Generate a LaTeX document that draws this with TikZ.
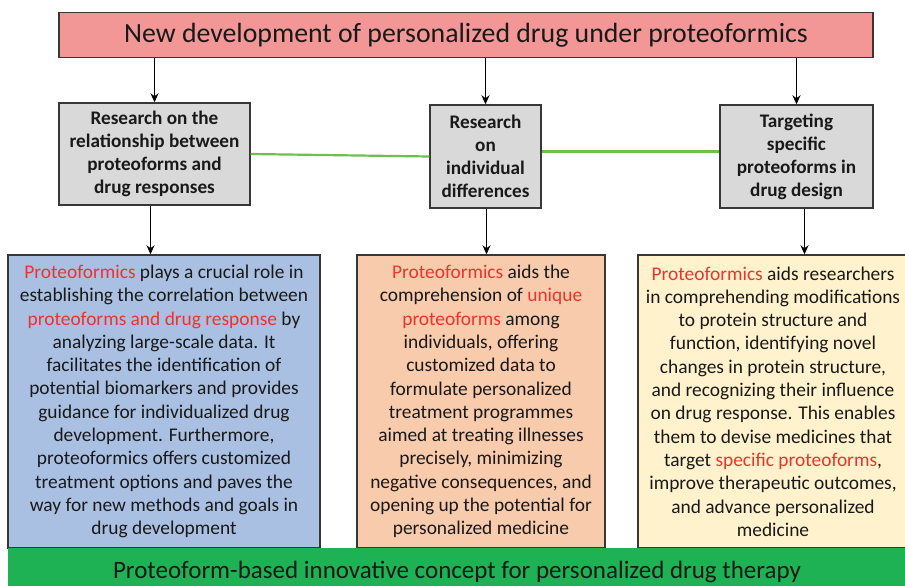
\documentclass[tikz,border=0pt]{standalone}
\usepackage{fontspec}
\setmainfont{Carlito}
\usetikzlibrary{arrows.meta,shadows}

\definecolor{bannerred}{RGB}{243,150,150}
\definecolor{headgray}{RGB}{217,217,217}
\definecolor{boxblue}{RGB}{170,192,226}
\definecolor{boxorange}{RGB}{248,203,173}
\definecolor{boxyellow}{RGB}{255,242,204}
\definecolor{bargreen}{RGB}{30,178,84}
\definecolor{linkgreen}{RGB}{112,190,80}
\definecolor{hl}{RGB}{235,52,45}
\definecolor{edge}{RGB}{55,55,55}
\definecolor{ink}{RGB}{25,25,25}

\newcommand{\hi}[1]{\textcolor{hl}{#1}}

\tikzset{
  panel/.style={draw=edge, line width=1.4pt, rectangle, inner sep=0pt,
    align=center, text=ink},
  headbox/.style={panel, fill=headgray,
    drop shadow={shadow xshift=1.2pt, shadow yshift=-1.2pt, opacity=0.45},
    font=\bfseries\fontsize{19.2}{23}\selectfont},
  bodybox/.style={panel, font=\fontsize{19.4}{23.3}\selectfont},
  flow/.style={-{Stealth[length=9pt,width=8pt]}, line width=1.8pt, black},
  link/.style={line width=2.2pt, linkgreen},
}

\begin{document}
\begin{tikzpicture}[x=1pt,y=-1pt]
\useasboundingbox (0,0) rectangle (905,586);
\clip (0,0) rectangle (905,586);
\fill[white] (0,0) rectangle (905,586);

% top banner
\node[panel, fill=bannerred, minimum width=814pt, minimum height=45pt,
      font=\fontsize{27.8}{32}\selectfont] (top) at (466,35)
  {New development of personalized drug under proteoformics};

% three research themes
\node[headbox, minimum width=191pt, minimum height=102pt] (g1) at (154.5,154)
  {Research on the\\relationship between\\proteoforms and\\drug responses};
\node[headbox, minimum width=111pt, minimum height=103pt] (g2) at (485.5,156.5)
  {Research\\on\\individual\\differences};
\node[headbox, minimum width=153pt, minimum height=103pt] (g3) at (796.5,156.5)
  {Targeting\\specific\\proteoforms in\\drug design};

% explanatory panels
\node[bodybox, fill=boxblue, minimum width=312pt, minimum height=293pt] (b1) at (164,401.5)
  {\hi{Proteoformics} plays a crucial role in\\
   establishing the correlation between\\
   \hi{proteoforms and drug response} by\\
   analyzing large-scale data. It\\
   facilitates the identification of\\
   potential biomarkers and provides\\
   guidance for individualized drug\\
   development. Furthermore,\\
   proteoformics offers customized\\
   treatment options and paves the\\
   way for new methods and goals in\\
   drug development};
\node[bodybox, fill=boxorange, minimum width=248pt, minimum height=293pt] (b2) at (481,401.5)
  {\hi{Proteoformics} aids the\\
   comprehension of \hi{unique}\\
   \hi{proteoforms} among\\
   individuals, offering\\
   customized data to\\
   formulate personalized\\
   treatment programmes\\
   aimed at treating illnesses\\
   precisely, minimizing\\
   negative consequences, and\\
   opening up the potential for\\
   personalized medicine};
\node[bodybox, fill=boxyellow, minimum width=270pt, minimum height=293pt] (b3) at (773,401.5)
  {\hi{Proteoformics} aids researchers\\
   in comprehending modifications\\
   to protein structure and\\
   function, identifying novel\\
   changes in protein structure,\\
   and recognizing their influence\\
   on drug response. This enables\\
   them to devise medicines that\\
   target \hi{specific proteoforms},\\
   improve therapeutic outcomes,\\
   and advance personalized\\
   medicine};

% bottom concept bar (runs past the lower and right edges)
\node[rectangle, fill=bargreen, inner sep=0pt, minimum width=898pt, minimum height=48pt,
      text=ink, font=\fontsize{25}{30}\selectfont] (bottom) at (457,572)
  {Proteoform-based innovative concept for personalized drug therapy};

% connectors
\draw[flow] (top.south -| g1.north) -- (g1.north);
\draw[flow] (top.south -| g2.north) -- (g2.north);
\draw[flow] (top.south -| g3.north) -- (g3.north);
\draw[flow] ([xshift=-4pt]g1.south) -- ([xshift=-4pt]g1.south |- b1.north);
\draw[flow] ([xshift=1pt]g2.south) -- ([xshift=1pt]g2.south |- b2.north);
\draw[flow] ([xshift=8pt]g3.south) -- ([xshift=8pt]g3.south |- b3.north);
\draw[link] (g1.east) -- (g2.west);
\draw[link] ([yshift=5pt]g2.east) -- ([yshift=5pt]g3.west);
\end{tikzpicture}
\end{document}
